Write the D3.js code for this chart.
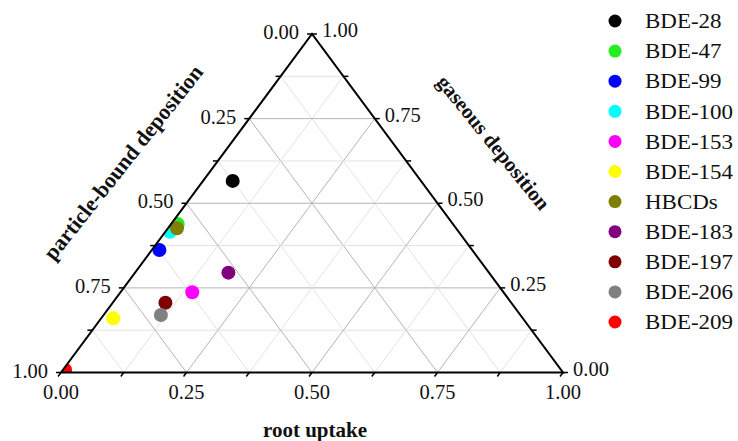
<!DOCTYPE html>
<html>
<head>
    <title>Ternary plot</title>
    <script src="https://d3js.org/d3.v7.min.js"></script>
    <style>
        body {
            margin: 0;
            background: #fff;
        }
        svg text {
            font-family: "Liberation Serif", "Times New Roman", serif;
            fill: #111;
        }
        .tick-label {
            font-size: 20.5px;
        }
        .axis-title {
            font-size: 21px;
            font-weight: bold;
        }
        .legend-label {
            font-size: 21.5px;
        }
    </style>
</head>
<body>
    <div id="chart"></div>

    <script>
        // compounds, colours and their shares (root uptake / gaseous / particle-bound)
        const compounds = ["BDE-28", "BDE-47", "BDE-99", "BDE-100", "BDE-153", "BDE-154",
                           "HBCDs", "BDE-183", "BDE-197", "BDE-206", "BDE-209"];
        const colors = ["#000000", "#22ee22", "#0000ff", "#00ffff", "#ff00ff", "#ffff00",
                        "#808000", "#800080", "#800000", "#808080", "#ff0000"];
        const rootUptake = [0.059, 0.013, 0.015, 0.009, 0.143, 0.024, 0.018, 0.186, 0.105, 0.114, 0.004];
        const gaseousDep = [0.566, 0.439, 0.362, 0.416, 0.237, 0.160, 0.426, 0.295, 0.206, 0.170, 0.008];
        const particleDep = [0.375, 0.548, 0.623, 0.575, 0.620, 0.816, 0.556, 0.519, 0.689, 0.716, 0.988];

        const tickValues = [0, 0.125, 0.25, 0.375, 0.5, 0.625, 0.75, 0.875, 1];
        const labelValues = [0, 0.25, 0.5, 0.75, 1];

        const width = 738, height = 441;

        const svg = d3.select("#chart")
            .append("svg")
            .attr("width", width)
            .attr("height", height);

        // x runs along the bottom edge, y follows the gaseous share
        const x = d3.scaleLinear().domain([0, 1]).range([61, 563]);
        const y = d3.scaleLinear().domain([0, 1]).range([372.5, 34]);

        // position from root share r and gaseous share g
        function proj(r, g) {
            return [x(r + g / 2), y(g)];
        }

        const corners = [proj(0, 0), proj(1, 0), proj(0, 1)];

        svg.append("clipPath")
            .attr("id", "tri")
            .append("path")
            .attr("d", d3.line()(corners) + "Z");

        // grid lines, three families
        const gridVals = tickValues.filter(v => v > 0 && v < 1);
        const grid = svg.append("g");
        gridVals.forEach(v => {
            const major = Math.abs(v * 4 - Math.round(v * 4)) < 1e-6;
            const segs = [
                [proj(0, v), proj(1 - v, v)],       // gaseous constant
                [proj(v, 0), proj(v, 1 - v)],       // root constant
                [proj(1 - v, 0), proj(0, 1 - v)]    // particle constant
            ];
            segs.forEach(s => {
                grid.append("line")
                    .attr("x1", s[0][0]).attr("y1", s[0][1])
                    .attr("x2", s[1][0]).attr("y2", s[1][1])
                    .attr("stroke", major ? "#b4b4b4" : "#e2e2e2")
                    .attr("stroke-width", 1);
            });
        });

        // points
        const pts = compounds.map((name, i) => {
            const s = rootUptake[i] + gaseousDep[i] + particleDep[i];
            return {name: name, color: colors[i], r: rootUptake[i] / s, g: gaseousDep[i] / s};
        });

        svg.append("g")
            .attr("clip-path", "url(#tri)")
            .selectAll("circle")
            .data(pts)
            .enter()
            .append("circle")
            .attr("cx", d => proj(d.r, d.g)[0])
            .attr("cy", d => proj(d.r, d.g)[1])
            .attr("r", 7)
            .attr("fill", d => d.color);

        // triangle frame
        svg.append("path")
            .attr("d", d3.line()(corners) + "Z")
            .attr("fill", "none")
            .attr("stroke", "#000")
            .attr("stroke-width", 2)
            .attr("stroke-linejoin", "miter");

        // ticks
        const ticks = svg.append("g").attr("stroke", "#000").attr("stroke-width", 1.5);
        const tl = 5;
        tickValues.forEach(v => {
            // bottom: root uptake
            const b = proj(v, 0);
            ticks.append("line")
                .attr("x1", b[0]).attr("y1", b[1])
                .attr("x2", b[0] - 0.596 * tl).attr("y2", b[1] + 0.803 * tl);
            // left edge
            const l = proj(0, v);
            ticks.append("line")
                .attr("x1", l[0]).attr("y1", l[1])
                .attr("x2", l[0] - tl).attr("y2", l[1]);
            // right edge
            const rr = proj(1 - v, v);
            ticks.append("line")
                .attr("x1", rr[0]).attr("y1", rr[1])
                .attr("x2", rr[0] + tl).attr("y2", rr[1]);
        });

        const fmt = d3.format(".2f");

        // bottom labels
        svg.append("g").selectAll("text")
            .data(labelValues)
            .enter()
            .append("text")
            .attr("class", "tick-label")
            .attr("x", d => proj(d, 0)[0])
            .attr("y", 399)
            .attr("text-anchor", "middle")
            .text(d => fmt(d));

        // left labels (particle-bound = 1 - g on the left edge)
        svg.append("g").selectAll("text")
            .data(labelValues)
            .enter()
            .append("text")
            .attr("class", "tick-label")
            .attr("x", d => proj(0, 1 - d)[0] - 13)
            .attr("y", d => proj(0, 1 - d)[1] - 2)
            .attr("text-anchor", "end")
            .attr("dominant-baseline", "central")
            .text(d => fmt(d));

        // right labels (gaseous)
        svg.append("g").selectAll("text")
            .data(labelValues)
            .enter()
            .append("text")
            .attr("class", "tick-label")
            .attr("x", d => proj(1 - d, d)[0] + 10)
            .attr("y", d => proj(1 - d, d)[1] - 4)
            .attr("text-anchor", "start")
            .attr("dominant-baseline", "central")
            .text(d => fmt(d));

        // axis titles
        svg.append("text")
            .attr("class", "axis-title")
            .attr("text-anchor", "middle")
            .attr("x", 315).attr("y", 437)
            .text("root uptake");

        svg.append("text")
            .attr("class", "axis-title")
            .attr("text-anchor", "middle")
            .style("font-size", "22px")
            .attr("transform", "translate(129,167) rotate(-51.5)")
            .text("particle-bound deposition");

        svg.append("text")
            .attr("class", "axis-title")
            .attr("text-anchor", "middle")
            .attr("transform", "translate(488,147) rotate(51)")
            .text("gaseous deposition");

        // legend
        const legend = svg.append("g");
        const ly = d3.scaleLinear().domain([0, compounds.length - 1]).range([21, 322]);
        const items = legend.selectAll("g")
            .data(pts)
            .enter()
            .append("g")
            .attr("transform", (d, i) => `translate(615,${ly(i)})`);

        items.append("circle")
            .attr("r", 6.5)
            .attr("fill", d => d.color);

        items.append("text")
            .attr("class", "legend-label")
            .attr("x", 28)
            .attr("dominant-baseline", "central")
            .attr("transform", "scale(1.07,1)")
            .text(d => d.name);
    </script>
</body>
</html>
